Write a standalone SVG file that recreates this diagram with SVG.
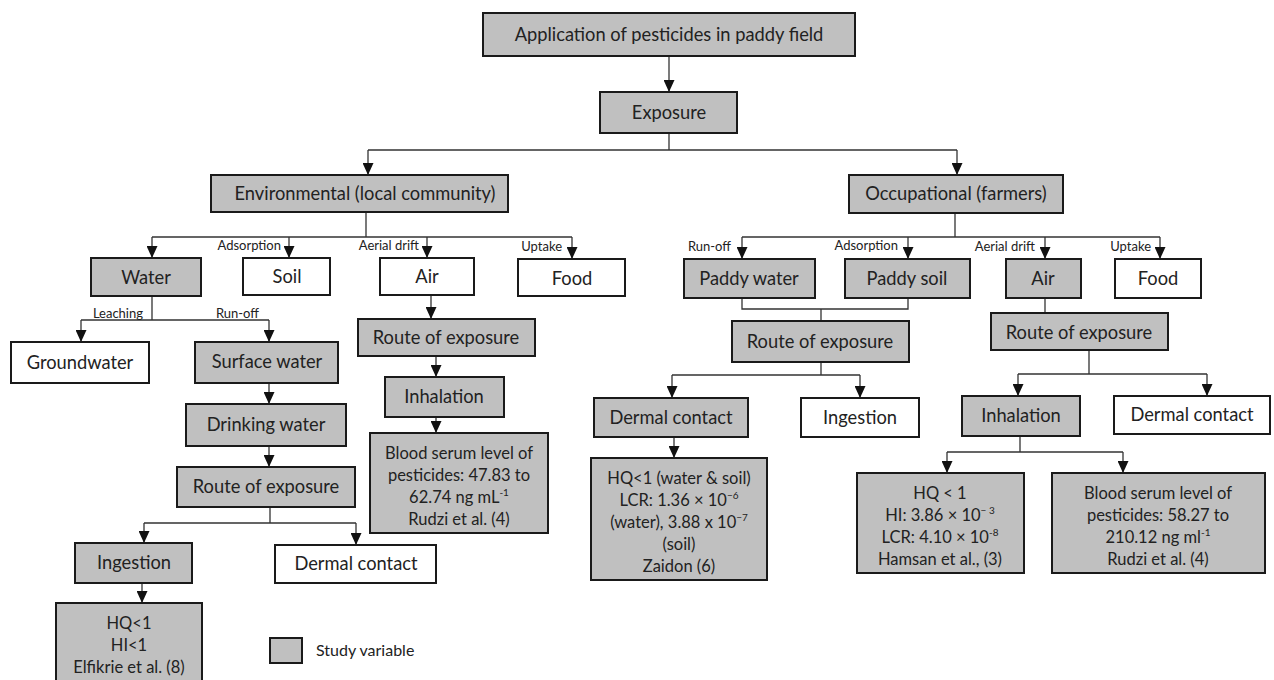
<svg xmlns="http://www.w3.org/2000/svg" width="1274" height="680" viewBox="0 0 1274 680">
<defs>
<marker id="ah" markerUnits="userSpaceOnUse" markerWidth="11" markerHeight="12" refX="5.5" refY="12" orient="0" viewBox="0 0 11 12">
<path d="M0,0 L11,0 L5.5,12 z" fill="#111"/>
</marker>
<style>
.g{fill:#c0c0c0;stroke:#1a1a1a;stroke-width:2}
.w{fill:#fff;stroke:#1a1a1a;stroke-width:2}
text{font-family:Lato,"Open Sans","Liberation Sans",sans-serif;fill:#222;text-anchor:middle}
.t{font-size:18.3px}
.s{font-size:16.5px}
.l{font-size:13px;text-anchor:end}
.c path{fill:none;stroke:#333;stroke-width:1.3}
.a{marker-end:url(#ah)}
</style>
</defs>
<rect width="1274" height="680" fill="#fff"/>
<g class="c" id="connectors">
<path class="a" d="M669,56 V92"/>
<path d="M669,133 V150 M368,150 H957"/>
<path class="a" d="M368,150 V175"/>
<path class="a" d="M957,150 V175"/>
<path d="M366,212 V237 M152,237 H572"/>
<path class="a" d="M152,237 V258"/>
<path class="a" d="M289,237 V258"/>
<path class="a" d="M427,237 V258"/>
<path class="a" d="M572,237 V259"/>
<path d="M152,297 V320 M81,320 H269"/>
<path class="a" d="M81,320 V342"/>
<path class="a" d="M269,320 V342"/>
<path class="a" d="M269,383 V404"/>
<path class="a" d="M269,446 V467"/>
<path d="M270,507 V523 M144,523 H356"/>
<path class="a" d="M144,523 V543"/>
<path class="a" d="M356,523 V545"/>
<path class="a" d="M142,583 V603"/>
<path class="a" d="M431,295 V319"/>
<path class="a" d="M436,356 V377"/>
<path class="a" d="M436,417 V433"/>
<path d="M955,213 V237 M742,237 H1160"/>
<path class="a" d="M742,237 V259"/>
<path class="a" d="M908,237 V259"/>
<path class="a" d="M1045,237 V259"/>
<path class="a" d="M1160,237 V259"/>
<path d="M742,298 V309 H908 V298 M821,309 V321"/>
<path d="M1045,298 V313"/>
<path d="M821,362 V375 M672,375 H860"/>
<path class="a" d="M672,375 V398"/>
<path class="a" d="M860,375 V398"/>
<path d="M1089,350 V374 M1018,374 H1207"/>
<path class="a" d="M1018,374 V396"/>
<path class="a" d="M1207,374 V396"/>
<path class="a" d="M674,437 V458"/>
<path d="M1020,436 V452 M947,452 H1123"/>
<path class="a" d="M947,452 V473"/>
<path class="a" d="M1123,452 V473"/>
</g>
<g id="edge-labels">
<text class="l" x="281" y="250">Adsorption</text>
<text class="l" x="419" y="250">Aerial drift</text>
<text class="l" x="562" y="251">Uptake</text>
<text class="l" x="143" y="318">Leaching</text>
<text class="l" x="259" y="318">Run-off</text>
<text class="l" x="731" y="251">Run-off</text>
<text class="l" x="898" y="250">Adsorption</text>
<text class="l" x="1035" y="251">Aerial drift</text>
<text class="l" x="1151" y="251">Uptake</text>
</g>
<g id="n-app"><rect class="g" x="483" y="13" width="372" height="43"/><text class="t" x="669" y="41">Application of pesticides in paddy field</text></g>
<g id="n-exposure"><rect class="g" x="600" y="92" width="137" height="41"/><text class="t" x="669" y="119">Exposure</text></g>
<g id="n-env"><rect class="g" x="211" y="175" width="297" height="37"/><text class="t" x="365" y="200">Environmental (local community)</text></g>
<g id="n-occ"><rect class="g" x="849" y="175" width="214" height="38"/><text class="t" x="956" y="200">Occupational (farmers)</text></g>
<g id="n-water"><rect class="g" x="91" y="258" width="110" height="38"/><text class="t" x="146" y="284">Water</text></g>
<g id="n-soil"><rect class="w" x="243" y="258" width="87" height="37"/><text class="t" x="287" y="283">Soil</text></g>
<g id="n-air"><rect class="w" x="380" y="258" width="94" height="37"/><text class="t" x="427" y="283">Air</text></g>
<g id="n-food"><rect class="w" x="518" y="259" width="107" height="37"/><text class="t" x="572" y="285">Food</text></g>
<g id="n-groundwater"><rect class="w" x="11" y="342" width="138" height="41"/><text class="t" x="80" y="369">Groundwater</text></g>
<g id="n-surface"><rect class="g" x="195" y="342" width="143" height="41"/><text class="t" x="267" y="368">Surface water</text></g>
<g id="n-drinking"><rect class="g" x="186" y="404" width="160" height="42"/><text class="t" x="266" y="431">Drinking water</text></g>
<g id="n-route1"><rect class="g" x="177" y="467" width="178" height="40"/><text class="t" x="266" y="493">Route of exposure</text></g>
<g id="n-ingestion1"><rect class="g" x="75" y="543" width="117" height="40"/><text class="t" x="134" y="569">Ingestion</text></g>
<g id="n-dermal1"><rect class="w" x="275" y="545" width="161" height="38"/><text class="t" x="356" y="570">Dermal contact</text></g>
<g id="n-hq1"><rect class="g" x="56" y="603" width="146" height="82"/>
<text class="s"><tspan x="129" y="629">HQ&lt;1</tspan><tspan x="129" y="651">HI&lt;1</tspan><tspan x="129" y="673">Elfikrie et al. (8)</tspan></text></g>
<g id="n-route2"><rect class="g" x="358" y="319" width="177" height="37"/><text class="t" x="446" y="344">Route of exposure</text></g>
<g id="n-inhal1"><rect class="g" x="385" y="377" width="119" height="40"/><text class="t" x="444" y="403">Inhalation</text></g>
<g id="n-blood1"><rect class="g" x="370" y="433" width="178" height="100"/>
<text class="s"><tspan x="459" y="459">Blood serum level of</tspan><tspan x="459" y="481">pesticides: 47.83 to</tspan><tspan x="459" y="503">62.74 ng mL<tspan font-size="10" dy="-7">-1</tspan></tspan><tspan x="459" y="525">Rudzi et al. (4)</tspan></text></g>
<g id="n-paddywater"><rect class="g" x="684" y="259" width="131" height="39"/><text class="t" x="749" y="285">Paddy water</text></g>
<g id="n-paddysoil"><rect class="g" x="845" y="259" width="125" height="39"/><text class="t" x="907" y="285">Paddy soil</text></g>
<g id="n-air2"><rect class="g" x="1006" y="259" width="75" height="39"/><text class="t" x="1043" y="285">Air</text></g>
<g id="n-food2"><rect class="w" x="1115" y="259" width="86" height="39"/><text class="t" x="1158" y="285">Food</text></g>
<g id="n-route3"><rect class="g" x="732" y="321" width="177" height="41"/><text class="t" x="820" y="348">Route of exposure</text></g>
<g id="n-route4"><rect class="g" x="991" y="313" width="177" height="37"/><text class="t" x="1079" y="339">Route of exposure</text></g>
<g id="n-dermal2"><rect class="g" x="594" y="398" width="154" height="39"/><text class="t" x="671" y="424">Dermal contact</text></g>
<g id="n-ingestion2"><rect class="w" x="801" y="398" width="118" height="39"/><text class="t" x="860" y="424">Ingestion</text></g>
<g id="n-inhal2"><rect class="g" x="962" y="396" width="118" height="40"/><text class="t" x="1021" y="422">Inhalation</text></g>
<g id="n-dermal3"><rect class="w" x="1114" y="396" width="156" height="38"/><text class="t" x="1192" y="421">Dermal contact</text></g>
<g id="n-hq2"><rect class="g" x="591" y="458" width="176" height="122"/>
<text class="s"><tspan x="679" y="484">HQ&lt;1 (water &amp; soil)</tspan><tspan x="679" y="506">LCR: 1.36 × 10<tspan font-size="10" dy="-7">−6</tspan></tspan><tspan x="679" y="528">(water), 3.88 x 10<tspan font-size="10" dy="-7">−7</tspan></tspan><tspan x="679" y="550">(soil)</tspan><tspan x="679" y="572">Zaidon (6)</tspan></text></g>
<g id="n-hq3"><rect class="g" x="857" y="473" width="167" height="100"/>
<text class="s"><tspan x="940" y="499">HQ &lt; 1</tspan><tspan x="940" y="521">HI: 3.86 × 10<tspan font-size="10" dy="-7">− 3</tspan></tspan><tspan x="940" y="543">LCR: 4.10 × 10<tspan font-size="10" dy="-7">-8</tspan></tspan><tspan x="940" y="565">Hamsan et al., (3)</tspan></text></g>
<g id="n-blood2"><rect class="g" x="1052" y="473" width="213" height="100"/>
<text class="s"><tspan x="1158" y="499">Blood serum level of</tspan><tspan x="1158" y="521">pesticides: 58.27 to</tspan><tspan x="1158" y="543">210.12 ng ml<tspan font-size="10" dy="-7">-1</tspan></tspan><tspan x="1158" y="565">Rudzi et al. (4)</tspan></text></g>
<g id="legend"><rect class="g" x="270" y="638" width="32" height="25"/><text style="font-size:16px;text-anchor:start" x="316" y="656">Study variable</text></g>
</svg>
